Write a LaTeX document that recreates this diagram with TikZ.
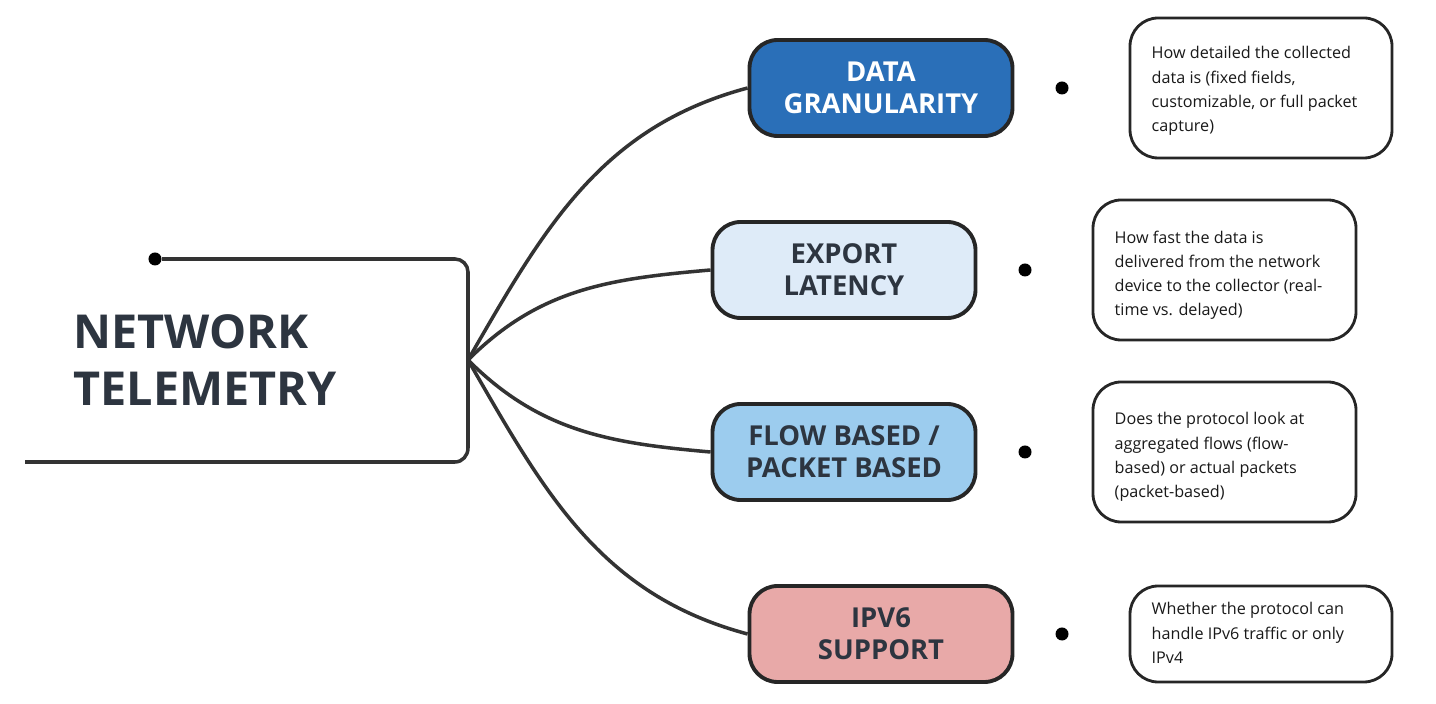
\documentclass[tikz,border=0pt]{standalone}
\usepackage{fontspec}
\setmainfont{Open Sans}
\definecolor{txt}{HTML}{2D3540}
\definecolor{cdg}{HTML}{2A6FB8}
\definecolor{cel}{RGB}{222,235,248}
\definecolor{cfb}{RGB}{156,204,238}
\definecolor{cip}{RGB}{232,169,168}
\begin{document}
\begin{tikzpicture}[x=0.01cm,y=-0.01cm,
  ln/.style={draw=black!80, line width=1pt},
  cat/.style={draw=black!85, line width=1.1pt, rounded corners=8pt, minimum width=263*0.01cm, minimum height=96*0.01cm, align=center, font=\bfseries\fontsize{7.8}{9.2}\selectfont, text=txt},
  desc/.style={align=left, font=\fontsize{4.6}{6.9}\selectfont, text=black!90, inner sep=0pt},
  dbox/.style={line width=0.8pt, draw=black!85, rounded corners=8pt},
  dot/.style={circle, fill=black, inner sep=0pt, minimum size=0.13cm}]
\useasboundingbox (0,0) rectangle (1436,704);
\fill[white] (0,0) rectangle (1436,704);
\node[dot] (d0) at (155,259) {};
\coordinate (c0) at (25,462);
\coordinate (hub) at (468,360);
\draw[ln] (d0) -- (455,259) to[out=0,in=90] (468,272) -- (468,448) to[out=-90,in=0] (455,462) -- (c0);
\node[align=left, font=\bfseries\fontsize{13.3}{16}\selectfont, text=txt] (title) at (205,360) {NETWORK\\TELEMETRY};

\node[cat, fill=cdg, text=white] (dg) at (881,88) {DATA\\GRANULARITY};
\node[cat, fill=cel] (el) at (844,270) {EXPORT\\LATENCY};
\node[cat, fill=cfb] (fb) at (844,452) {FLOW BASED /\\PACKET BASED};
\node[cat, fill=cip] (ip) at (881,634) {IPV6\\SUPPORT};

\draw[ln] (hub) to[out=60,in=195] (dg.west);
\draw[ln] (hub) to[out=45,in=185] (el.west);
\draw[ln] (hub) to[out=-45,in=175] (fb.west);
\draw[ln] (hub) to[out=-60,in=165] (ip.west);

\node[dot] (p1) at (1062,88) {};
\node[dot] (p2) at (1025,270) {};
\node[dot] (p3) at (1025,452) {};
\node[dot] (p4) at (1062,634) {};

\draw[dbox] (1130,18) rectangle (1392,158);
\draw[dbox] (1093,200) rectangle (1356,340);
\draw[dbox] (1093,382) rectangle (1356,522);
\draw[dbox] (1130,586) rectangle (1392,682);
\node[desc, anchor=north west] (t1) at (1151,46) {How detailed the collected\\data is (fixed fields,\\customizable, or full packet\\capture)};
\node[desc, anchor=north west] (t2) at (1114,230) {How fast the data is\\delivered from the network\\device to the collector (real-\\time vs. delayed)};
\node[desc, anchor=north west] (t3) at (1114,412) {Does the protocol look at\\aggregated flows (flow-\\based) or actual packets\\(packet-based)};
\node[desc, anchor=north west] (t4) at (1151,602) {Whether the protocol can\\handle IPv6 traffic or only\\IPv4};
\end{tikzpicture}
\end{document}
